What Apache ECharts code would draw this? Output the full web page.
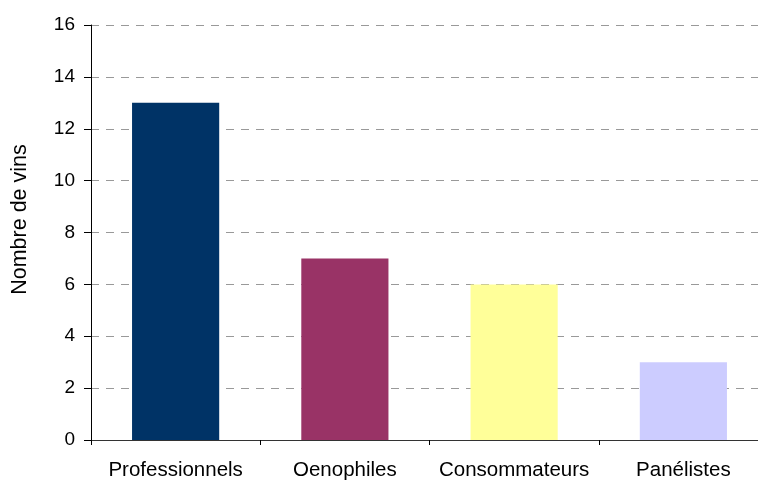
<!DOCTYPE html>
<html><head><meta charset="utf-8">
<script src="https://cdn.jsdelivr.net/npm/echarts@6/dist/echarts.min.js"></script>
<style>html,body{margin:0;padding:0;background:#fff;overflow:hidden;width:758px;height:481px}#c{width:790px;height:481px}</style>
</head><body><div id="c"></div>
<script>
const categories = ["Professionnels", "Oenophiles", "Consommateurs", "Panélistes"];
const values = [13, 7, 6, 3];
const barColors = ["#003366", "#993366", "#FFFF99", "#CCCCFF"];
const yTicks = [0, 2, 4, 6, 8, 10, 12, 14, 16];

const chart = echarts.init(document.getElementById('c'), null, {renderer: 'canvas'});
chart.setOption({
  animation: false,
  backgroundColor: '#fff',
  grid: {left: 91, top: 25, width: 677, height: 415.5, containLabel: false},
  xAxis: {
    type: 'category',
    data: categories,
    boundaryGap: true,
    axisLine: {lineStyle: {color: '#333', width: 1}},
    axisTick: {show: true, interval: 0, alignWithLabel: false, length: 5, lineStyle: {color: '#000'}},
    axisLabel: {interval: 0, hideOverlap: false, color: '#000', fontSize: 20.5, fontFamily: 'Liberation Sans, Arial', margin: 20},
    splitLine: {show: false}
  },
  yAxis: {
    type: 'value',
    min: yTicks[0], max: yTicks[yTicks.length - 1], interval: 2,
    name: 'Nombre de vins',
    nameLocation: 'middle',
    nameGap: 60,
    nameRotate: 90,
    nameTextStyle: {color: '#000', fontSize: 21.5, fontFamily: 'Liberation Sans, Arial', padding: [0, 0, 0, 26]},
    axisLine: {show: true, lineStyle: {color: '#000', width: 1}},
    axisTick: {show: true, length: 7, lineStyle: {color: '#000'}},
    axisLabel: {color: '#000', fontSize: 19, fontFamily: 'Liberation Sans, Arial', margin: 16},
    splitLine: {show: true, lineStyle: {color: '#999', type: [8, 7], width: 1}}
  },
  series: [{
    type: 'bar',
    data: values.map((v, i) => ({value: v, itemStyle: {color: barColors[i]}})),
    barWidth: '51.5%'
  }]
});
</script></body></html>
